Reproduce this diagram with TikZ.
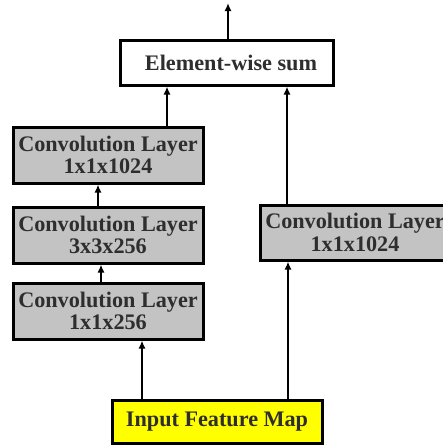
\documentclass[tikz,border=0pt]{standalone}
\usepackage{fontspec}
\setmainfont{Liberation Serif}
\usetikzlibrary{arrows.meta}
\definecolor{boxgray}{HTML}{C3C3C3}
\definecolor{txt}{HTML}{2E2E2E}
\definecolor{ylw}{HTML}{FFFF00}
\tikzset{
  blk/.style={draw=black, line width=3pt, inner sep=0pt, align=center,
    text=txt, font=\fontsize{22.2}{22.5}\selectfont\bfseries},
  conv/.style={blk, fill=boxgray, minimum width=190pt, minimum height=56pt},
  arr/.style={line width=2.5pt, -{Latex[length=8pt,width=7pt]}},
}
\begin{document}
\begin{tikzpicture}[x=1pt,y=-1pt]
\useasboundingbox[fill=white] (0,0) rectangle (443,445);
\node[blk, fill=white, minimum width=213pt, minimum height=45pt] (sum) at (226.5,62.5) {\hspace*{9pt}Element-wise sum};
\node[conv] (c1) at (108,155) {Convolution Layer\\1x1x1024};
\node[conv] (c2) at (108,235) {Convolution Layer\\3x3x256};
\node[conv] (c3) at (108,311) {Convolution Layer\\1x1x256};
\node[conv, minimum height=55pt] (cr) at (355,232.5) {Convolution Layer\\1x1x1024};
\node[blk, fill=ylw, minimum width=210pt, minimum height=43pt] (in) at (217,421.5) {Input Feature Map};
\coordinate (top) at (228,3);
\draw[arr] (top |- sum.north) -- (top);
\draw[arr] ([xshift=59pt]c1.north) -- ([xshift=59pt]c1.north |- sum.south);
\draw[arr] ([xshift=-68pt]cr.north) -- ([xshift=-68pt]cr.north |- sum.south);
\draw[arr] ([xshift=-10pt]c2.north) -- ([xshift=-10pt]c2.north |- c1.south);
\draw[arr] ([xshift=-7pt]c3.north) -- ([xshift=-7pt]c3.north |- c2.south);
\draw[arr] ([xshift=34pt]c3.south |- in.north) -- ([xshift=34pt]c3.south);
\draw[arr] ([xshift=-67pt]cr.south |- in.north) -- ([xshift=-67pt]cr.south);
\end{tikzpicture}
\end{document}
